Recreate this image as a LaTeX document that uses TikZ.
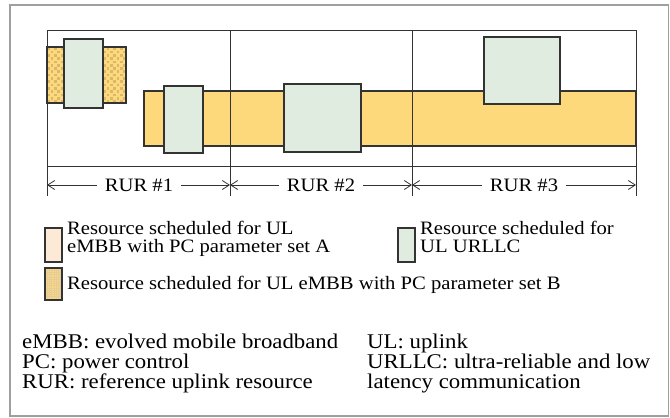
\documentclass[tikz,border=0pt]{standalone}
\usepackage{fontspec}
\setmainfont{Liberation Serif}[FakeStretch=1.09]
\usetikzlibrary{arrows.meta,calc}
\definecolor{embbB}{HTML}{FDD97C}
\definecolor{embbA}{HTML}{FDEAD6}
\definecolor{urllc}{HTML}{DFECDF}
\definecolor{dotc}{HTML}{D9B86E}
\definecolor{edge}{HTML}{333333}
\begin{document}
\begin{tikzpicture}[x=1bp,y=-1bp,
  font=\rmfamily\fontsize{19}{18}\selectfont,
  res/.style={draw=edge, line width=1.2bp, inner sep=0pt, outer sep=0pt},
  urllcbox/.style={res, fill=urllc},
  barbox/.style={res, fill=embbB},
  checkbox/.style={res, fill=embbB, path picture={
      \foreach \i in {0,...,24}{
        \foreach \j in {0,...,17}{
          \pgfmathtruncatemacro{\p}{mod(\i+\j,2)}
          \ifnum\p=0
            \fill[dotc] ($(path picture bounding box.north west)+(\i*3.3+0.3,\j*3.3+0.3)$) rectangle +(2.7,2.7);
          \fi}}}},
  gridbox/.style={res, fill=embbB, path picture={
      \foreach \k in {0,...,16}{
        \draw[dotc!70, line width=.35bp] ($(path picture bounding box.north west)+(\k*2.2,0)$) -- +(0,40);
        \draw[dotc!70, line width=.35bp] ($(path picture bounding box.north west)+(0,\k*2.2)$) -- +(40,0);}}},
  frame/.style={draw=edge, line width=1bp},
  txt/.style={inner sep=0pt, anchor=north west, align=left},
  abbr/.style={txt, font=\rmfamily\fontsize{21}{20}\selectfont},
  rurarrow/.style={draw=edge, line width=.8bp, -{Straight Barb[length=7bp,width=9bp]}}
]
\useasboundingbox (0,0) rectangle (670,417);
% outer border
\draw[gray!75, line width=1.5bp] (10,5) rectangle (668.5,416);

% time/frequency grid with three reference uplink resources
\coordinate (d0t) at (47,30);   \coordinate (d0b) at (47,196);
\coordinate (d1t) at (230,30);  \coordinate (d1b) at (230,196);
\coordinate (d2t) at (412,30);  \coordinate (d2b) at (412,196);
\coordinate (d3t) at (636,30);  \coordinate (d3b) at (636,196);

% eMBB resources
\node[checkbox, minimum width=79bp, minimum height=56bp] (embbA) at (86.5,75) {};
\node[barbox, minimum width=492bp, minimum height=55bp] (embbB) at (390,118.5) {};

% URLLC resources
\node[urllcbox, minimum width=39bp, minimum height=69bp] (u0) at (83.5,73.5) {};
\node[urllcbox, minimum width=39bp, minimum height=67bp] (u1) at (183.5,119.5) {};
\node[urllcbox, minimum width=77bp, minimum height=68bp] (u2) at (322.5,118) {};
\node[urllcbox, minimum width=76bp, minimum height=67bp] (u3) at (522,70.5) {};

% grid lines
\draw[frame] (47,30) rectangle (636,166);
\draw[frame] (d0t) -- (d0b);
\draw[frame] (d1t) -- (d1b);
\draw[frame] (d2t) -- (d2b);
\draw[frame] (d3t) -- (d3b);

% RUR spans
\node[inner sep=0pt] (r1) at (139,185) {RUR \#1};
\node[inner sep=0pt] (r2) at (321,185) {RUR \#2};
\node[inner sep=0pt] (r3) at (524,185) {RUR \#3};
\coordinate (a0) at (47,185);
\coordinate (a1) at (230,185);
\coordinate (a2) at (412,185);
\coordinate (a3) at (636,185);
\draw[rurarrow] ([xshift=-8bp]r1.west) -- (a0);
\draw[rurarrow] ([xshift=8bp]r1.east) -- (a1);
\draw[rurarrow] ([xshift=-8bp]r2.west) -- (a1);
\draw[rurarrow] ([xshift=8bp]r2.east) -- (a2);
\draw[rurarrow] ([xshift=-8bp]r3.west) -- (a2);
\draw[rurarrow] ([xshift=8bp]r3.east) -- (a3);

% legend
\node[res, fill=embbA, minimum width=17bp, minimum height=34bp] (kA) at (53.5,245) {};
\node[txt] (tA) at (67,221) {Resource scheduled for UL\\eMBB with PC parameter set A};
\node[res, fill=urllc, minimum width=17bp, minimum height=34bp] (kU) at (406.5,245) {};
\node[txt] (tU) at (420,221) {Resource scheduled for\\UL URLLC};
\node[gridbox, minimum width=17bp, minimum height=32bp] (kB) at (53.5,284) {};
\node[txt] (tB) at (67,276) {Resource scheduled for UL eMBB with PC parameter set B};

% abbreviations
\node[abbr] (ab1) at (22,334) {eMBB: evolved mobile broadband\\PC: power control\\RUR: reference uplink resource};
\node[abbr] (ab2) at (367,334) {UL: uplink\\URLLC: ultra-reliable and low\\latency communication};
\end{tikzpicture}
\end{document}
